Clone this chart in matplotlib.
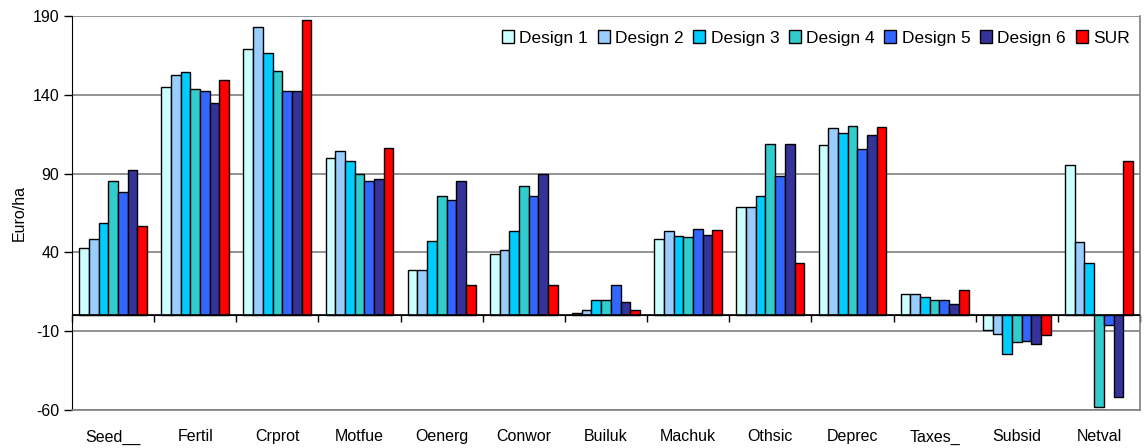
import numpy as np
import matplotlib.pyplot as plt
from matplotlib.ticker import FixedLocator

plt.rcParams['font.family'] = ['Liberation Sans', 'DejaVu Sans']
plt.rcParams['axes.unicode_minus'] = False

categories = ['Seed__', 'Fertil', 'Crprot', 'Motfue', 'Oenerg', 'Conwor', 'Builuk',
              'Machuk', 'Othsic', 'Deprec', 'Taxes_', 'Subsid', 'Netval']
series_names = ['Design 1', 'Design 2', 'Design 3', 'Design 4', 'Design 5', 'Design 6', 'SUR']

design1 = [42.6, 145.2, 169.3, 99.6, 29.1, 39.0, 1.7, 48.8, 68.6, 108.0, 13.5, -9.1, 95.3]
design2 = [48.7, 152.4, 182.8, 104.1, 29.1, 41.8, 3.4, 53.4, 68.6, 118.8, 13.5, -11.6, 46.4]
design3 = [58.7, 154.3, 166.6, 97.7, 47.1, 53.4, 9.7, 50.5, 75.6, 116.0, 11.4, -24.3, 33.1]
design4 = [85.5, 143.6, 155.0, 89.9, 75.6, 81.9, 9.7, 49.8, 109.0, 120.3, 10.1, -17.1, -58.1]
design5 = [78.3, 142.5, 142.5, 85.5, 73.0, 75.6, 19.4, 55.1, 88.2, 105.4, 10.1, -16.1, -6.3]
design6 = [92.5, 134.5, 142.5, 86.3, 85.5, 89.9, 8.7, 51.3, 108.8, 114.2, 7.2, -18.0, -51.9]
sur = [56.8, 149.7, 187.2, 106.0, 19.4, 19.4, 3.4, 54.3, 33.4, 119.3, 15.9, -12.7, 98.1]

colors = ['#CCFFFF', '#99CCFF', '#00CCFF', '#33CCCC', '#3366FF', '#333399', '#FF0000']
all_series = [design1, design2, design3, design4, design5, design6, sur]

fig = plt.figure(figsize=(11.46, 4.48), dpi=100)
ax = fig.add_axes([0.0628, 0.0848, 0.932, 0.8795])

x = np.arange(len(categories))
w = 0.118
for i, (vals, c, name) in enumerate(zip(all_series, colors, series_names)):
    ax.bar(x + (i - 3) * w, vals, w, color=c, edgecolor='black', linewidth=1.0,
           label=name, zorder=3)

ax.set_xlim(-0.5, len(categories) - 0.5)
ax.set_ylim(-60, 190)
ax.set_yticks([-60, -10, 40, 90, 140, 190])
ax.yaxis.grid(True, color='#808080', linewidth=1.2, zorder=0)
ax.tick_params(axis='y', direction='out', length=6, width=1, labelsize=11.5, pad=3)
ax.set_ylabel('Euro/ha', fontsize=11.5, labelpad=4)

ax.set_xticks(x)
ax.set_xticklabels(categories, fontsize=11.5)
ax.tick_params(axis='x', length=0, pad=14)

for s in ['top', 'right', 'bottom']:
    ax.spines[s].set_color('#808080')
    ax.spines[s].set_linewidth(1.2)
ax.spines['top'].set_visible(False)
ax.spines['left'].set_color('black')

# zero line with boundary ticks
ax.axhline(0, color='black', linewidth=1.2, zorder=4)
sec = ax.secondary_xaxis(60 / 250)
sec.xaxis.set_major_locator(FixedLocator(np.arange(-0.5, len(categories), 1.0)))
sec.tick_params(axis='x', direction='out', length=5, width=1, labelbottom=False)
sec.spines['bottom'].set_color('black')

leg = ax.legend(loc='upper right', bbox_to_anchor=(1.0, 0.99), ncol=7, frameon=False,
                fontsize=12.5, handlelength=0.7, handleheight=0.7, handletextpad=0.3,
                columnspacing=0.55, borderaxespad=0.2)

plt.savefig('out.png', dpi=100)
